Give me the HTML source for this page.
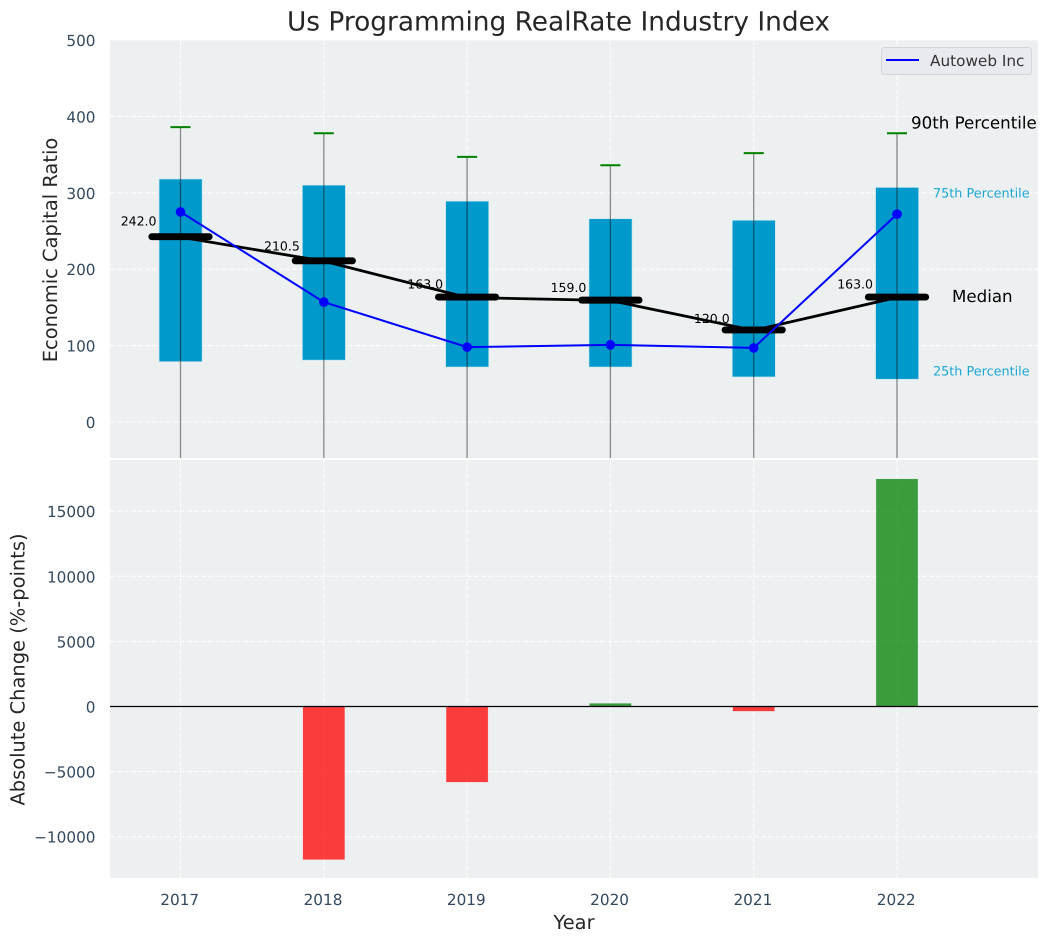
<!DOCTYPE html>
<html lang="en">
<head>
<meta charset="utf-8">
<title>Us Programming RealRate Industry Index</title>
<style>
html,body{margin:0;padding:0;background:#fff;width:1048px;height:942px;overflow:hidden}
svg{display:block}
text{font-family:"DejaVu Sans","Liberation Sans",sans-serif;text-rendering:geometricPrecision}
</style>
</head>
<body>
<svg id="chart" xmlns="http://www.w3.org/2000/svg" width="1048" height="942" viewBox="0 0 1048 942">
  <defs>
    <clipPath id="clip-top"><rect x="110" y="40" width="928" height="418"/></clipPath>
    <clipPath id="clip-bot"><rect x="110" y="460" width="928" height="418"/></clipPath>
  </defs>
  <rect x="110" y="40" width="928" height="418" fill="#ecf0f1"/>
  <rect x="110" y="460" width="928" height="418" fill="#ecf0f1"/>
  <g id="grid"></g>
  <g id="top-marks" clip-path="url(#clip-top)"></g>
  <g id="bot-marks" clip-path="url(#clip-bot)"></g>
  <g id="labels"></g>
  <text x="558.5" y="30.5" text-anchor="middle" font-size="26.4" fill="#262626">Us Programming RealRate Industry Index</text>
  <text transform="translate(57,250) rotate(-90)" text-anchor="middle" font-size="19.44" fill="#262626">Economic Capital Ratio</text>
  <text transform="translate(24.5,669.5) rotate(-90)" text-anchor="middle" font-size="19.44" fill="#262626">Absolute Change (%-points)</text>
  <text x="574" y="929" text-anchor="middle" font-size="19.44" fill="#262626">Year</text>
  <text x="911" y="128.5" font-size="16.67" fill="#000">90th Percentile</text>
  <text x="933" y="197.5" font-size="12.8" fill="#1ba6d2">75th Percentile</text>
  <text x="952" y="302" font-size="16.67" fill="#000">Median</text>
  <text x="933" y="375.5" font-size="12.8" fill="#1ba6d2">25th Percentile</text>
  <g>
    <rect x="881.5" y="47.5" width="150" height="27" rx="3" fill="#e9eaf0" stroke="#d4d5d8" stroke-width="1"/>
    <line x1="886" y1="60" x2="919" y2="60" stroke="#0000ff" stroke-width="2"/>
    <text x="930" y="66" font-size="15.28" fill="#333">Autoweb Inc</text>
  </g>
</svg>
<script>
var years = [2017, 2018, 2019, 2020, 2021, 2022];
var p90 = [386, 378, 347, 336, 352, 378];
var p75 = [318, 310, 289, 266, 264, 307];
var medians = [242, 210.5, 163, 159, 120, 163];
var p25 = [79, 81, 72, 72, 59, 56];
var p10 = [-60, -60, -60, -60, -60, -60];
var autoweb = [275, 157, 98, 101, 97, 272];
var changes = [0, -11750, -5800, 230, -350, 17470];
var topTicks = [0, 100, 200, 300, 400, 500];
var botTicks = [-10000, -5000, 0, 5000, 10000, 15000];

var NS = 'http://www.w3.org/2000/svg';
function x(v) { return 180.5 + (v - 2017) * 143.3; }
function yTop(v) { return 422 - v * 0.764; }
function yBot(v) { return 706.5 - v * 0.01302; }
function make(tag, parent, attrs, txt) {
  var el = document.createElementNS(NS, tag);
  for (var k in attrs) { el.setAttribute(k, attrs[k]); }
  if (txt !== undefined) { el.textContent = txt; }
  parent.appendChild(el);
  return el;
}
function fmt(v) { return String(v).replace('-', '\u2212'); }

var grid = document.getElementById('grid');
var labels = document.getElementById('labels');
var topMarks = document.getElementById('top-marks');
var botMarks = document.getElementById('bot-marks');
var dash = '5,2';

topTicks.forEach(function (t) {
  var g = make('line', grid, {x1: 110, x2: 1038, y1: yTop(t), y2: yTop(t), stroke: '#fff', 'stroke-width': 1, 'stroke-dasharray': dash, opacity: 0.9});
  
  
  var l = make('text', labels, {x: 95.5, y: yTop(t) + 6, 'text-anchor': 'end', 'font-size': 15.28, fill: '#34495e'}, fmt(t));
  
  
});
botTicks.forEach(function (t) {
  var g = make('line', grid, {x1: 110, x2: 1038, y1: yBot(t), y2: yBot(t), stroke: '#fff', 'stroke-width': 1, 'stroke-dasharray': dash, opacity: 0.9});
  
  
  var l = make('text', labels, {x: 95.5, y: yBot(t) + 6, 'text-anchor': 'end', 'font-size': 15.28, fill: '#34495e'}, fmt(t));
  
  
});
years.forEach(function (yr) {
  var a = make('line', grid, {x1: x(yr), x2: x(yr), y1: 40, y2: 458, stroke: '#fff', 'stroke-width': 1, 'stroke-dasharray': dash, opacity: 0.9});
  
  
  var b = make('line', grid, {x1: x(yr), x2: x(yr), y1: 460, y2: 878, stroke: '#fff', 'stroke-width': 1, 'stroke-dasharray': dash, opacity: 0.9});
  
  
  var l = make('text', labels, {x: x(yr) - 0.8, y: 905, 'text-anchor': 'middle', 'font-size': 15.28, fill: '#34495e'}, String(yr));
  
  
});

// boxes (25th to 75th percentile)
years.forEach(function (yr, i) {
  var box = make('rect', topMarks, {x: x(yr - 0.15) + 0.1, y: yTop(p75[i]), width: x(yr + 0.15) - x(yr - 0.15), height: yTop(p25[i]) - yTop(p75[i]), fill: '#0099cc', stroke: '#bfe3ef', 'stroke-width': 0.6});
  
  
});
// whiskers and caps
years.forEach(function (yr, i) {
  var w = make('line', topMarks, {x1: x(yr), x2: x(yr), y1: yTop(p90[i]), y2: yTop(p10[i]), stroke: '#000', 'stroke-opacity': 0.45, 'stroke-width': 1.3});
  
  
  var c = make('line', topMarks, {x1: x(yr - 0.07), x2: x(yr + 0.07), y1: yTop(p90[i]), y2: yTop(p90[i]), stroke: '#008000', 'stroke-width': 2});
  
  
  var c2 = make('line', topMarks, {x1: x(yr - 0.07), x2: x(yr + 0.07), y1: yTop(p10[i]), y2: yTop(p10[i]), stroke: '#008000', 'stroke-width': 2});
  
  
});
// median trend line and bars
var medPts = years.map(function (yr, i) { return x(yr) + ',' + yTop(medians[i]); }).join(' ');
var medLine = make('polyline', topMarks, {points: medPts, fill: 'none', stroke: '#000', 'stroke-width': 2.8});


years.forEach(function (yr, i) {
  var m = make('line', topMarks, {x1: x(yr - 0.2), x2: x(yr + 0.2), y1: yTop(medians[i]) - 0.4, y2: yTop(medians[i]) - 0.4, stroke: '#000', 'stroke-width': 6.9, 'stroke-linecap': 'round'});
  
  
  var t = make('text', labels, {x: x(yr) - 24, y: yTop(medians[i] * 1.05) - 2.5, 'text-anchor': 'end', 'font-size': 12.5, fill: '#000'}, medians[i].toFixed(1));
  
  
});
// autoweb series
var awPts = years.map(function (yr, i) { return x(yr) + ',' + yTop(autoweb[i]); }).join(' ');
var awLine = make('polyline', topMarks, {points: awPts, fill: 'none', stroke: '#0000ff', 'stroke-width': 2});


years.forEach(function (yr, i) {
  var p = make('circle', topMarks, {cx: x(yr), cy: yTop(autoweb[i]), r: 4.8, fill: '#0000ff'});
  
  
});
// absolute change bars
years.forEach(function (yr, i) {
  var v = changes[i];
  if (v === 0) { return; }
  var top = Math.min(yBot(v), yBot(0));
  var h = Math.abs(yBot(v) - yBot(0));
  var r = make('rect', botMarks, {x: x(yr - 0.145), y: top, width: x(yr + 0.145) - x(yr - 0.145), height: h, fill: v > 0 ? '#008000' : '#ff0000', 'fill-opacity': 0.75, stroke: v > 0 ? '#008000' : '#ff0000', 'stroke-opacity': 0.2, 'stroke-width': 0.6});
  
  
});
var zero = make('line', botMarks, {x1: 110, x2: 1038, y1: yBot(0), y2: yBot(0), stroke: '#000', 'stroke-width': 1.3});


</script>
</body>
</html>
